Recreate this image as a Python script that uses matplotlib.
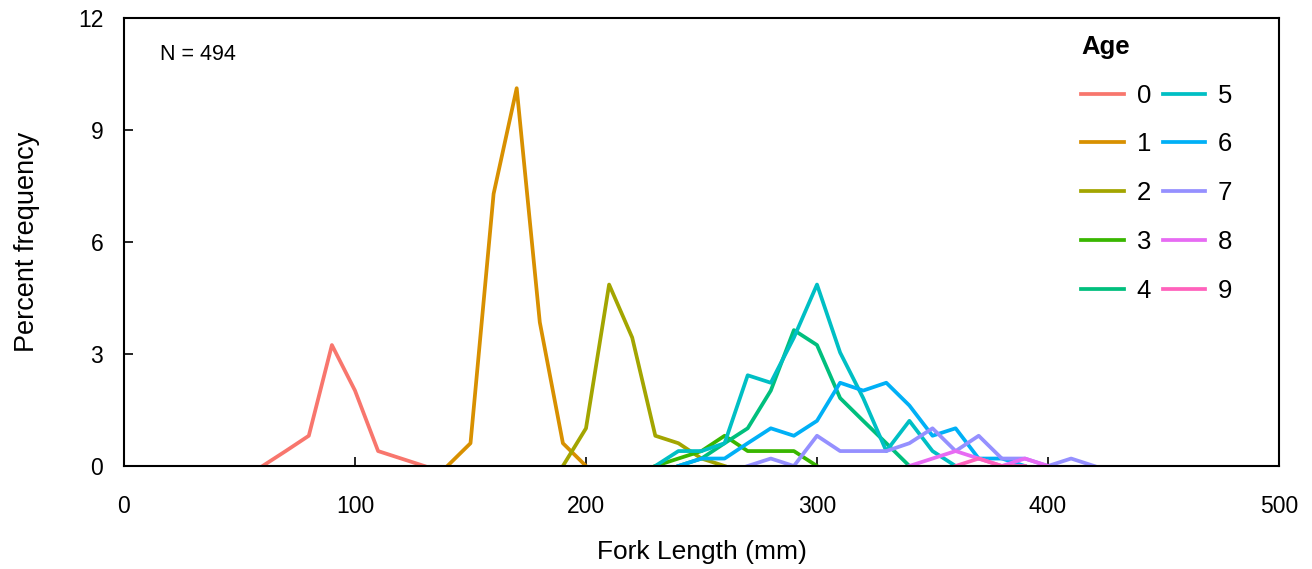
import numpy as np
import matplotlib.pyplot as plt

plt.rcParams['font.family'] = ['Liberation Sans', 'DejaVu Sans']

# percent frequency by 10 mm fork length bin, one series per age
ages = ['0', '1', '2', '3', '4', '5', '6', '7', '8', '9']
fl = {
    '0': [60, 70, 80, 90, 100, 110, 120, 130],
    '1': [140, 150, 160, 170, 180, 190, 200],
    '2': [190, 200, 210, 220, 230, 240, 250, 260],
    '3': [230, 240, 250, 260, 270, 280, 290, 300],
    '4': [240, 250, 260, 270, 280, 290, 300, 310, 320, 330, 340],
    '5': [230, 240, 250, 260, 270, 280, 290, 300, 310, 320, 330, 340, 350, 360],
    '6': [240, 250, 260, 270, 280, 290, 300, 310, 320, 330, 340, 350, 360, 370, 380, 390],
    '7': [270, 280, 290, 300, 310, 320, 330, 340, 350, 360, 370, 380, 390, 400, 410, 420],
    '8': [340, 350, 360, 370, 380, 390, 400],
    '9': [360, 370, 380, 390],
}
pct = {
    '0': [0, 0.40, 0.81, 3.24, 2.02, 0.40, 0.20, 0],
    '1': [0, 0.61, 7.29, 10.12, 3.85, 0.61, 0],
    '2': [0, 1.01, 4.86, 3.44, 0.81, 0.61, 0.20, 0],
    '3': [0, 0.20, 0.40, 0.81, 0.40, 0.40, 0.40, 0],
    '4': [0, 0.20, 0.61, 1.01, 2.02, 3.64, 3.24, 1.82, 1.21, 0.61, 0],
    '5': [0, 0.40, 0.40, 0.61, 2.43, 2.23, 3.44, 4.86, 3.04, 1.82, 0.40, 1.21, 0.40, 0],
    '6': [0, 0.20, 0.20, 0.61, 1.01, 0.81, 1.21, 2.23, 2.02, 2.23, 1.62, 0.81, 1.01, 0.20, 0.20, 0],
    '7': [0, 0.20, 0, 0.81, 0.40, 0.40, 0.40, 0.61, 1.01, 0.40, 0.81, 0.20, 0.20, 0, 0.20, 0],
    '8': [0, 0.20, 0.40, 0.20, 0, 0.20, 0],
    '9': [0, 0.20, 0, 0],
}
colors = ['#F8766D', '#D89000', '#A3A500', '#39B600', '#00BF7D',
          '#00BFC4', '#00B0F6', '#9590FF', '#E76BF3', '#FF62BC']

fig = plt.figure(figsize=(13.12, 5.69), dpi=100)
ax = fig.add_axes([124 / 1312, 1 - 466 / 569, (1279 - 124) / 1312, (466 - 18) / 569])

for a, c in zip(ages, colors):
    ax.plot(fl[a], pct[a], color=c, lw=2.7, label=a)

ax.set_xlim(0, 500)
ax.set_ylim(0, 12)
ax.set_xticks(np.arange(0, 501, 100))
ax.set_yticks([0, 3, 6, 9, 12])
ax.tick_params(axis='x', direction='in', length=6.5, width=1.2, labelsize=16.5, pad=21)
ax.tick_params(axis='y', direction='in', length=6.5, width=1.2, labelsize=16.5, pad=15)
for s in ax.spines.values():
    s.set_linewidth(1.5)

ax.set_xlabel('Fork Length (mm)', fontsize=19, labelpad=16)
ax.set_ylabel('Percent frequency', fontsize=19.5, labelpad=27)
ax.text(0.031, 0.918, 'N = 494', transform=ax.transAxes, fontsize=15.5, va='center')

leg = ax.legend(ncol=2, loc='upper right', bbox_to_anchor=(0.975, 1.003), frameon=False,
                title='Age', fontsize=18.5, handlelength=1.65, handletextpad=0.5,
                columnspacing=0.45, labelspacing=0.97, alignment='left', borderaxespad=0.3)
leg.get_title().set_fontweight('bold')
leg.get_title().set_fontsize(18.5)

plt.savefig('out.png', dpi=100)
